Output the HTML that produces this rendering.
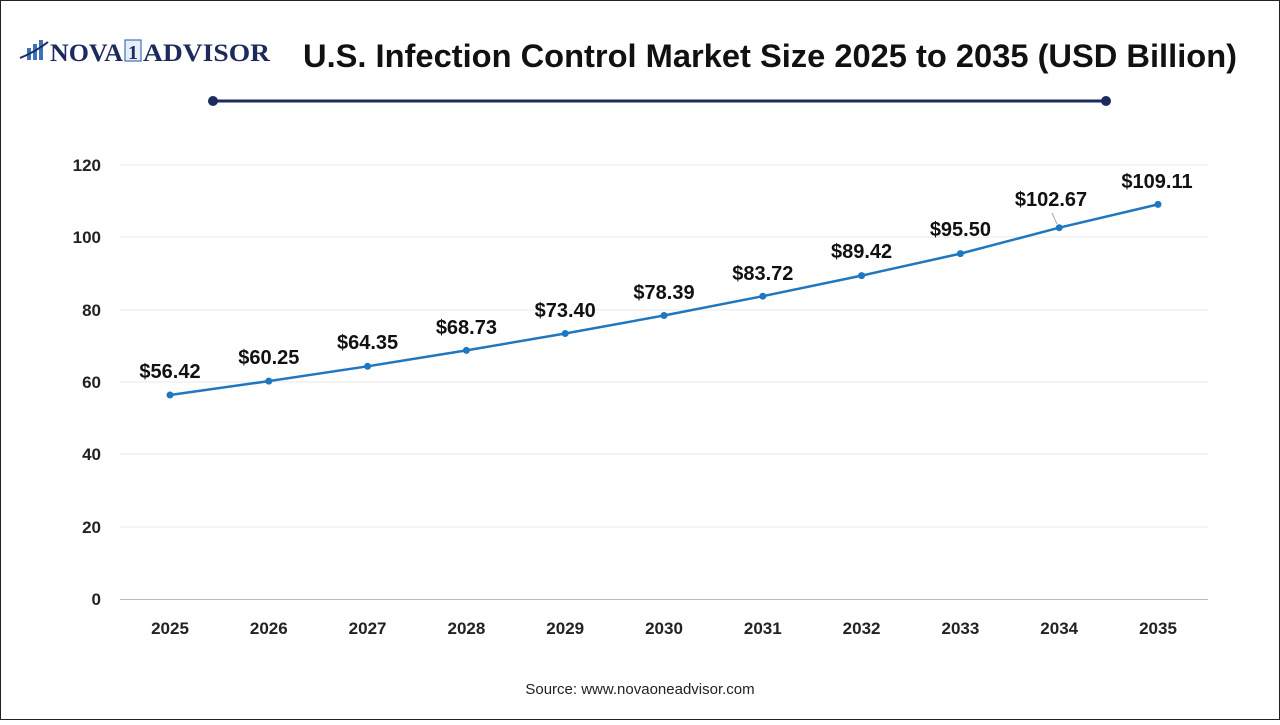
<!DOCTYPE html>
<html><head><meta charset="utf-8"><style>
body{margin:0;width:1280px;height:720px;overflow:hidden;background:#fff;font-family:"Liberation Sans",sans-serif}
</style></head><body>
<svg width="1280" height="720" xmlns="http://www.w3.org/2000/svg" font-family="Liberation Sans, sans-serif">
<rect x="0.5" y="0.5" width="1279" height="719" fill="#fff" stroke="#222" stroke-width="1"/>
<!-- logo -->
<g fill="#3b73b9"><rect x="27" y="48" width="4" height="12"/><rect x="33" y="44" width="4" height="16"/><rect x="39" y="40" width="4" height="20"/></g>
<path d="M20 58 Q35 52 48 42" stroke="#1d2a5e" stroke-width="2" fill="none"/>
<text x="50" y="61" font-family="Liberation Serif, serif" font-weight="bold" font-size="25" fill="#1d2a5e" textLength="73" lengthAdjust="spacingAndGlyphs">NOVA</text>
<rect x="125" y="40" width="16" height="21" fill="#e8eef7" stroke="#3b73b9" stroke-width="1.2"/>
<text x="133" y="59" text-anchor="middle" font-family="Liberation Serif, serif" font-weight="bold" font-size="20" fill="#1d2a5e">1</text>
<text x="143" y="61" font-family="Liberation Serif, serif" font-weight="bold" font-size="25" fill="#1d2a5e" textLength="127" lengthAdjust="spacingAndGlyphs">ADVISOR</text>
<text x="303" y="67" font-weight="bold" font-size="32" fill="#111" textLength="934" lengthAdjust="spacingAndGlyphs">U.S. Infection Control Market Size 2025 to 2035 (USD Billion)</text>
<line x1="213" y1="101" x2="1106" y2="101" stroke="#1d2a5e" stroke-width="3"/>
<circle cx="213" cy="101" r="5" fill="#1d2a5e"/><circle cx="1106" cy="101" r="5" fill="#1d2a5e"/>
<g stroke="#e8e8e8" stroke-width="1">
<line x1="120" y1="165" x2="1208" y2="165"/><line x1="120" y1="237" x2="1208" y2="237"/><line x1="120" y1="310" x2="1208" y2="310"/><line x1="120" y1="382" x2="1208" y2="382"/><line x1="120" y1="454" x2="1208" y2="454"/><line x1="120" y1="527" x2="1208" y2="527"/>
</g>
<line x1="120" y1="599.5" x2="1208" y2="599.5" stroke="#bbb" stroke-width="1"/>
<g font-size="17" font-weight="bold" fill="#222" text-anchor="end">
<text x="101" y="171">120</text><text x="101" y="243">100</text><text x="101" y="316">80</text><text x="101" y="388">60</text><text x="101" y="460">40</text><text x="101" y="533">20</text><text x="101" y="605">0</text>
</g>
<g font-size="17" font-weight="bold" fill="#222" text-anchor="middle">
<text x="170" y="634">2025</text><text x="268.8" y="634">2026</text><text x="367.6" y="634">2027</text><text x="466.4" y="634">2028</text><text x="565.2" y="634">2029</text><text x="664" y="634">2030</text><text x="762.8" y="634">2031</text><text x="861.6" y="634">2032</text><text x="960.4" y="634">2033</text><text x="1059.2" y="634">2034</text><text x="1158" y="634">2035</text>
</g>
<polyline fill="none" stroke="#1f77bf" stroke-width="2.5" points="170,395 268.8,381.1 367.6,366.3 466.4,350.4 565.2,333.5 664,315.5 762.8,296.2 861.6,275.6 960.4,253.6 1059.2,227.7 1158,204.4"/>
<g fill="#1f77bf">
<circle cx="170" cy="395" r="3.5"/><circle cx="268.8" cy="381.1" r="3.5"/><circle cx="367.6" cy="366.3" r="3.5"/><circle cx="466.4" cy="350.4" r="3.5"/><circle cx="565.2" cy="333.5" r="3.5"/><circle cx="664" cy="315.5" r="3.5"/><circle cx="762.8" cy="296.2" r="3.5"/><circle cx="861.6" cy="275.6" r="3.5"/><circle cx="960.4" cy="253.6" r="3.5"/><circle cx="1059.2" cy="227.7" r="3.5"/><circle cx="1158" cy="204.4" r="3.5"/>
</g>
<line x1="1052" y1="213" x2="1057" y2="224" stroke="#aaa" stroke-width="1"/>
<g font-size="20" font-weight="bold" fill="#111" text-anchor="middle">
<text x="170" y="378">$56.42</text><text x="268.8" y="364">$60.25</text><text x="367.6" y="349">$64.35</text><text x="466.4" y="334">$68.73</text><text x="565.2" y="317">$73.40</text><text x="664" y="299">$78.39</text><text x="762.8" y="280">$83.72</text><text x="861.6" y="258">$89.42</text><text x="960.4" y="236">$95.50</text><text x="1051" y="206">$102.67</text><text x="1157" y="188">$109.11</text>
</g>
<text x="640" y="694" text-anchor="middle" font-size="15" fill="#222">Source: www.novaoneadvisor.com</text>
</svg>
</body></html>
